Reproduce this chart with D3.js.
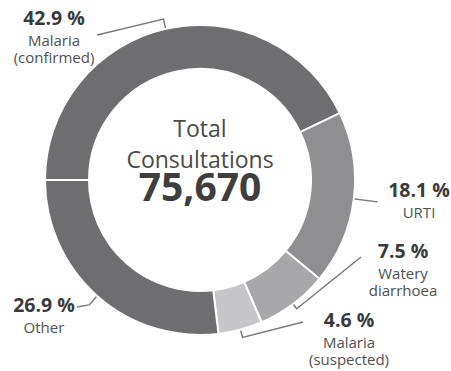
<!DOCTYPE html>
<html>
<head>
<meta charset="utf-8">
<script src="https://cdn.jsdelivr.net/npm/d3@7"></script>
<style>
  body { margin: 0; background: #fff; }
  svg { display: block; font-family: "Open Sans", "Noto Sans", sans-serif; }
</style>
</head>
<body>
<svg width="451" height="371"></svg>
<script>
// data
var categories = ["Malaria (confirmed)", "URTI", "Watery diarrhoea", "Malaria (suspected)", "Other"];
var shares = [42.9, 18.1, 7.5, 4.6, 26.9];
var labelLines = [["Malaria", "(confirmed)"], ["URTI"], ["Watery", "diarrhoea"], ["Malaria", "(suspected)"], ["Other"]];
var totalConsultations = 75670;

var colors = ["#6e6e70", "#8f8f91", "#a8a8aa", "#c6c6c8", "#6e6e70"];

// label layout: text centre + baseline, leader elbow length and end point
var layout = [
    {x: 54, y: 25, ext: 9, end: [97, 35]},
    {x: 419, y: 197, ext: 23, end: null},
    {x: 403, y: 258, ext: 5, end: [361, 257]},
    {x: 349, y: 327, ext: 7, end: [303, 322]},
    {x: 44, y: 312, ext: 11, end: [77, 307]}
];

var cx = 200, cy = 180, outerR = 155, innerR = 111;

var svg = d3.select("svg");
var g = svg.append("g").attr("transform", "translate(" + cx + "," + cy + ")");

var pie = d3.pie().sort(null).value(function (d) { return d; })
    .startAngle(-Math.PI / 2).endAngle(1.5 * Math.PI);
var arcs = pie(shares);
var arc = d3.arc().innerRadius(innerR).outerRadius(outerR);

g.selectAll("path.slice").data(arcs).enter().append("path")
    .attr("class", "slice")
    .attr("d", arc)
    .style("fill", function (d, i) { return colors[i]; })
    .style("stroke", "#fff")
    .style("stroke-width", 2);

// leader lines
svg.selectAll("path.leader").data(arcs).enter().append("path")
    .attr("class", "leader")
    .attr("d", function (d, i) {
        var a = (d.startAngle + d.endAngle) / 2;
        var r0 = outerR + 1, r1 = outerR + 1 + layout[i].ext;
        var p0 = [cx + r0 * Math.sin(a), cy - r0 * Math.cos(a)];
        var p1 = [cx + r1 * Math.sin(a), cy - r1 * Math.cos(a)];
        var pts = [p0, p1];
        if (layout[i].end) pts.push(layout[i].end);
        return d3.line()(pts);
    })
    .style("fill", "none")
    .style("stroke", "#7a7a7a")
    .style("stroke-width", 1.5);

// slice labels
var fmt = d3.format(".1f");
var lab = svg.selectAll("g.lab").data(arcs).enter().append("g").attr("class", "lab")
    .attr("transform", function (d, i) { return "translate(" + layout[i].x + "," + layout[i].y + ")"; });
lab.append("text")
    .attr("text-anchor", "middle")
    .style("font-size", "19.5px").style("font-weight", "bold").style("fill", "#3a3a3a")
    .text(function (d) { return fmt(d.value) + " %"; });
lab.each(function (d, i) {
    var sel = d3.select(this);
    labelLines[i].forEach(function (t, j) {
        sel.append("text")
            .attr("text-anchor", "middle")
            .attr("y", 21 + j * 17)
            .style("font-size", "15px").style("fill", "#505050")
            .text(t);
    });
});

// centre text
var centre = svg.append("g").attr("transform", "translate(" + cx + ",0)");
centre.append("text").attr("text-anchor", "middle").attr("y", 137)
    .style("font-size", "23px").style("fill", "#4a4a4a").text("Total");
centre.append("text").attr("text-anchor", "middle").attr("y", 168)
    .style("font-size", "23px").style("fill", "#4a4a4a").text("Consultations");
centre.append("text").attr("text-anchor", "middle").attr("y", 201)
    .style("font-size", "39px").style("font-weight", "bold").style("fill", "#3e3e3e")
    .text(d3.format(",")(totalConsultations));
</script>
</body>
</html>
